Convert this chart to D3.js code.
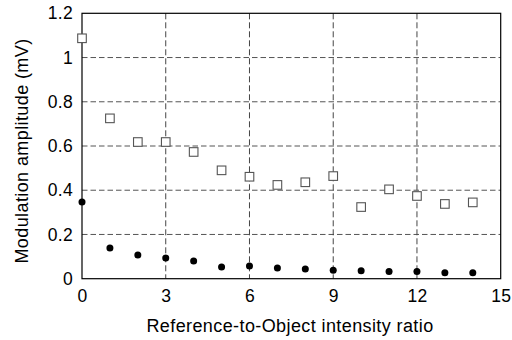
<!DOCTYPE html>
<html>
<head>
<meta charset="utf-8">
<script src="https://cdn.jsdelivr.net/npm/d3@7"></script>
<style>
  body { margin: 0; background: #fff; }
  text { font-family: "Liberation Sans", Arial, sans-serif; }
</style>
</head>
<body>
<svg id="chart" width="512" height="340"></svg>
<script>
// values
var ratios = [0, 1, 2, 3, 4, 5, 6, 7, 8, 9, 10, 11, 12, 13, 14];
var openSeries = [1.087, 0.725, 0.618, 0.618, 0.573, 0.49, 0.461, 0.424, 0.436, 0.464, 0.324, 0.404, 0.374, 0.338, 0.345];
var filledSeries = [0.347, 0.139, 0.107, 0.094, 0.08, 0.053, 0.057, 0.048, 0.044, 0.038, 0.036, 0.032, 0.032, 0.027, 0.027];
var xTicks = [0, 3, 6, 9, 12, 15];
var yTicks = [0, 0.2, 0.4, 0.6, 0.8, 1, 1.2];

var L = 82, R = 500.7, T = 13.3, B = 278.7;
var svg = d3.select('#chart');
var x = d3.scaleLinear().domain([0, 15]).range([L, R]);
var y = d3.scaleLinear().domain([0, 1.2]).range([B, T]);

// dashed grid
svg.append('g').selectAll('line').data(yTicks.slice(1, -1)).enter().append('line')
  .attr('x1', L).attr('x2', R).attr('y1', y).attr('y2', y)
  .attr('stroke', '#555').attr('stroke-width', 1).attr('stroke-dasharray', '5.5,3');
svg.append('g').selectAll('line').data(xTicks.slice(1, -1)).enter().append('line')
  .attr('y1', T).attr('y2', B).attr('x1', x).attr('x2', x)
  .attr('stroke', '#444').attr('stroke-width', 1).attr('stroke-dasharray', '6,3');

// frame
svg.append('rect').attr('x', L).attr('y', T).attr('width', R - L).attr('height', B - T)
  .attr('fill', 'none').attr('stroke', '#000').attr('stroke-width', 1.2);

// axes (labels only, no tick marks)
var xAxis = svg.append('g').attr('transform', 'translate(0,' + B + ')')
  .call(d3.axisBottom(x).tickValues(xTicks).tickSize(0).tickPadding(11).tickFormat(d3.format('d')));
var yAxis = svg.append('g').attr('transform', 'translate(' + L + ',0)')
  .call(d3.axisLeft(y).tickValues(yTicks).tickSize(0).tickPadding(9).tickFormat(function (d) { return String(d); }));
[xAxis, yAxis].forEach(function (g) {
  g.select('.domain').remove();
  g.selectAll('text').attr('font-size', 17.5).attr('fill', '#000').attr('letter-spacing', 0.3)
    .style('font-family', '"Liberation Sans", Arial, sans-serif');
});
xAxis.selectAll('text').attr('dy', '0.72em');

// markers
svg.append('g').selectAll('rect').data(ratios).enter().append('rect')
  .attr('x', function (d) { return x(d) - 4.3; })
  .attr('y', function (d, i) { return y(openSeries[i]) - 4.3; })
  .attr('width', 8.6).attr('height', 8.6)
  .attr('fill', '#fff').attr('stroke', '#555').attr('stroke-width', 1.1);
svg.append('g').selectAll('circle').data(ratios).enter().append('circle')
  .attr('cx', x).attr('cy', function (d, i) { return y(filledSeries[i]); })
  .attr('r', 3.5).attr('fill', '#000');

// titles
svg.append('text').attr('x', 290).attr('y', 331.5).attr('text-anchor', 'middle')
  .attr('font-size', 18).attr('letter-spacing', 0.4).text('Reference-to-Object intensity ratio');
svg.append('text').attr('transform', 'translate(27.5,151) rotate(-90)')
  .attr('text-anchor', 'middle').attr('font-size', 18).attr('letter-spacing', 0.4).text('Modulation amplitude (mV)');
</script>
</body>
</html>
